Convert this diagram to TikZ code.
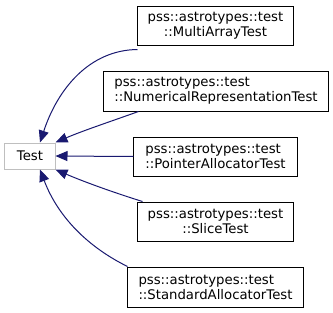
\documentclass[tikz,border=0pt]{standalone}
\usepackage{fontspec}
\setmainfont{DejaVu Sans}
\usetikzlibrary{positioning,arrows.meta}

\begin{document}
\begin{tikzpicture}[x=1bp,y=-1bp,
    cls/.style={draw=black,line width=1bp,align=left,inner sep=0pt,
      font=\fontsize{13.3}{15}\selectfont},
    base/.style={draw=black!25,line width=1bp,inner sep=0pt,
      minimum width=50bp,minimum height=26bp,font=\fontsize{13.3}{15}\selectfont},
    inh/.style={draw={rgb,255:red,25;green,25;blue,112},line width=1bp,
      -{Triangle[length=12bp,width=10bp]},fill=none}]
  \useasboundingbox (0,0) rectangle (333,313);

  \node[base] (test) at (30,156) {Test};

  \node[cls,align=center,minimum width=155bp,minimum height=39bp] (multi)
    at (215.5,25.5) {pss::astrotypes::test\\::MultiArrayTest};
  \node[cls,minimum width=224bp,minimum height=40bp] (numrep)
    at (216,91) {pss::astrotypes::test\\::NumericalRepresentationTest};
  \node[cls,minimum width=163bp,minimum height=39bp] (pointer)
    at (215.5,156.5) {pss::astrotypes::test\\::PointerAllocatorTest};
  \node[cls,align=center,minimum width=155bp,minimum height=39bp] (slice)
    at (215.5,221.5) {pss::astrotypes::test\\::SliceTest};
  \node[cls,minimum width=175bp,minimum height=40bp] (stdalloc)
    at (215.5,287) {pss::astrotypes::test\\::StandardAllocatorTest};

  % inheritance edges, child -> base
  \draw[inh] ([yshift=-4bp]multi.south west)
    .. controls (90,50) and (58,88) .. ([xshift=10bp]test.north);
  \draw[inh] ([xshift=35bp]numrep.south west)
    .. controls (112,121) and (82,131) .. (test.north east);
  \draw[inh] (pointer.west) -- (test.east);
  \draw[inh] ([xshift=5bp]slice.north west)
    .. controls (112,192) and (82,181) .. (test.south east);
  \draw[inh] (stdalloc.north west)
    .. controls (88,247) and (58,217) .. ([xshift=10bp]test.south);
\end{tikzpicture}
\end{document}
